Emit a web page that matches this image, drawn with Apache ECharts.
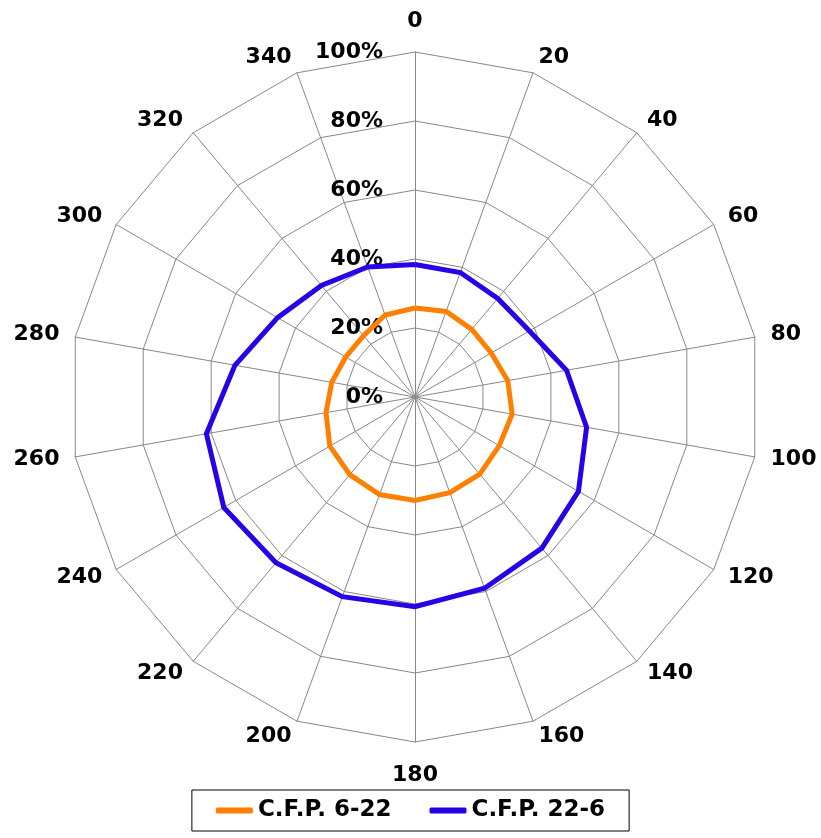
<!DOCTYPE html>
<html>
<head>
<meta charset="utf-8">
<script src="https://cdn.jsdelivr.net/npm/echarts@6/dist/echarts.min.js"></script>
<style>
  html, body { margin: 0; padding: 0; background: #fff; }
  #chart { width: 821px; height: 838px; }
</style>
</head>
<body>
<div id="chart"></div>
<script>
const directions = ['0', '20', '40', '60', '80', '100', '120', '140', '160', '180',
  '200', '220', '240', '260', '280', '300', '320', '340'];
const cfpDay = [25.8, 26.4, 25.6, 25.5, 27.3, 28.6, 28.2, 29.2, 29.5, 30.0,
  30.1, 29.4, 28.5, 26.2, 24.5, 23.2, 23.2, 25.3];
const cfpNight = [38.4, 38.4, 37.3, 38.3, 44.6, 50.5, 54.7, 57.2, 59.0, 60.8,
  61.6, 62.7, 64.0, 61.4, 53.0, 46.0, 42.2, 40.1];
const seriesNames = ['C.F.P. 6-22', 'C.F.P. 22-6'];

// radar places indicators counter-clockwise, so walk the list backwards after the first one
const order = [0].concat(directions.map((d, i) => i).slice(1).reverse());

const font = 'DejaVu Sans';
const gridColor = '#888888';

const chart = echarts.init(document.getElementById('chart'));

chart.setOption({
  animation: false,
  backgroundColor: '#fff',
  legend: {
    data: seriesNames,
    left: 'center',
    top: 790,
    padding: [9, 24],
    itemGap: 38,
    itemWidth: 37,
    itemHeight: 6,
    icon: 'roundRect',
    borderColor: '#000',
    borderWidth: 1,
    borderRadius: 0,
    textStyle: { fontFamily: font, fontWeight: 'bold', fontSize: 23, color: '#000' }
  },
  radar: {
    center: [415, 397],
    radius: 345,
    startAngle: 90,
    splitNumber: 5,
    shape: 'polygon',
    nameGap: 16,
    axisName: { fontFamily: font, fontWeight: 'bold', fontSize: 22, color: '#000' },
    axisLine: { lineStyle: { color: gridColor, width: 1 } },
    splitLine: { lineStyle: { color: gridColor, width: 1 } },
    splitArea: { show: false },
    axisTick: { show: false },
    axisLabel: { show: false },
    indicator: order.map((i, k) => {
      const ind = { name: directions[i], min: 0, max: 100 };
      if (directions[i] === '0') ind.nameGap = 20;
      if (directions[i] === '180') ind.nameGap = 22;
      if (k === 0) {
        ind.axisLabel = {
          show: true,
          margin: 32,
          formatter: '{value}%',
          fontFamily: font,
          fontWeight: 'bold',
          fontSize: 22,
          color: '#000'
        };
      }
      return ind;
    })
  },
  series: [{
    type: 'radar',
    symbol: 'none',
    data: [
      {
        name: seriesNames[0],
        value: order.map(i => cfpDay[i]),
        lineStyle: { color: '#ff7f00', width: 5, join: 'miter' },
        itemStyle: { color: '#ff7f00' }
      },
      {
        name: seriesNames[1],
        value: order.map(i => cfpNight[i]),
        lineStyle: { color: '#2a00e6', width: 5, join: 'miter' },
        itemStyle: { color: '#2a00e6' }
      }
    ]
  }]
});
</script>
</body>
</html>
